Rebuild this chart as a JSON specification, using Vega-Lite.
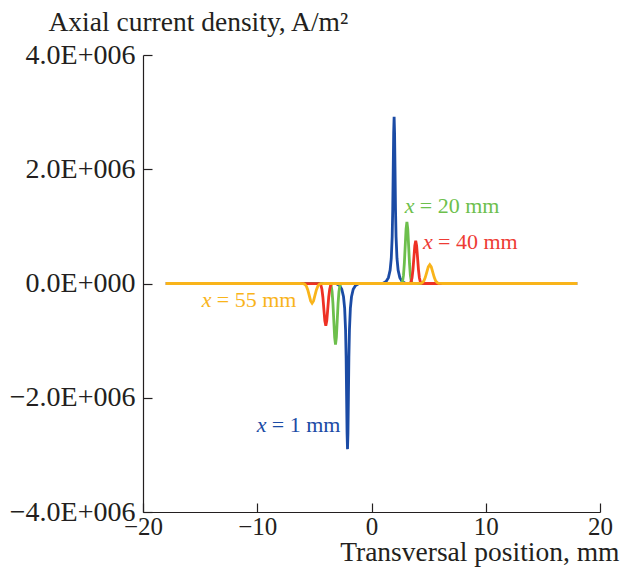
{
  "$schema": "https://vega.github.io/schema/vega-lite/v6.json",
  "width": 457,
  "height": 457,
  "autosize": {"type": "none"},
  "padding": {"left": 143, "top": 55, "right": 21, "bottom": 56},
  "background": "white",
  "view": {"stroke": null},
  "config": {
    "font": "Liberation Serif",
    "axis": {
      "grid": false,
      "domainColor": "#231f20",
      "tickColor": "#231f20",
      "domainWidth": 1.2,
      "tickWidth": 1.2,
      "tickSize": -9,
      "labelFont": "Liberation Serif",
      "labelFontSize": 27.5,
      "labelColor": "#231f20",
      "titleFont": "Liberation Serif",
      "titleFontSize": 27.5,
      "titleFontWeight": "normal",
      "titleColor": "#231f20",
      "labelOverlap": false,
      "labelFlush": false
    }
  },
  "datasets": {
    "blue": [
      {"x": -18, "y": 0}, {"x": -3.1, "y": 0}, {"x": -2.8, "y": -34800}, {"x": -2.6, "y": -101500}, {"x": -2.45, "y": -232000}, {"x": -2.35, "y": -435000}, {"x": -2.27, "y": -812000}, {"x": -2.22, "y": -1305000}, {"x": -2.18, "y": -1972000}, {"x": -2.14, "y": -2610000}, {"x": -2.1, "y": -2900000}, {"x": -2.06, "y": -2610000}, {"x": -2.02, "y": -1972000}, {"x": -1.98, "y": -1305000}, {"x": -1.93, "y": -812000}, {"x": -1.85, "y": -435000}, {"x": -1.75, "y": -232000}, {"x": -1.6, "y": -101500}, {"x": -1.4, "y": -34800}, {"x": -1.1, "y": 0},
      {"x": 0.98, "y": 0}, {"x": 1.28, "y": 35040}, {"x": 1.48, "y": 102200}, {"x": 1.63, "y": 233600}, {"x": 1.73, "y": 438000}, {"x": 1.81, "y": 817600}, {"x": 1.86, "y": 1314000}, {"x": 1.9, "y": 1985600}, {"x": 1.94, "y": 2628000}, {"x": 1.98, "y": 2920000}, {"x": 2.02, "y": 2628000}, {"x": 2.06, "y": 1985600}, {"x": 2.1, "y": 1314000}, {"x": 2.15, "y": 817600}, {"x": 2.23, "y": 438000}, {"x": 2.33, "y": 233600}, {"x": 2.48, "y": 102200}, {"x": 2.68, "y": 35040}, {"x": 2.98, "y": 0}, {"x": 18, "y": 0}
    ],
    "green": [
      {"x": -18, "y": 0}, {"x": -3.675, "y": -2400}, {"x": -3.6, "y": -11900}, {"x": -3.525, "y": -47000}, {"x": -3.45, "y": -144800}, {"x": -3.375, "y": -347400}, {"x": -3.3, "y": -649000}, {"x": -3.225, "y": -944300}, {"x": -3.15, "y": -1070000}, {"x": -3.075, "y": -944300}, {"x": -3.0, "y": -649000}, {"x": -2.925, "y": -347400}, {"x": -2.85, "y": -144800}, {"x": -2.775, "y": -47000}, {"x": -2.7, "y": -11900}, {"x": -2.625, "y": -2400}, {"x": -2.4, "y": 0},
      {"x": 2.35, "y": 0}, {"x": 2.575, "y": 2400}, {"x": 2.65, "y": 12000}, {"x": 2.725, "y": 47400}, {"x": 2.8, "y": 146100}, {"x": 2.875, "y": 350700}, {"x": 2.95, "y": 655000}, {"x": 3.025, "y": 953100}, {"x": 3.1, "y": 1080000}, {"x": 3.175, "y": 953100}, {"x": 3.25, "y": 655000}, {"x": 3.325, "y": 350700}, {"x": 3.4, "y": 146100}, {"x": 3.475, "y": 47400}, {"x": 3.55, "y": 12000}, {"x": 3.625, "y": 2400}, {"x": 3.85, "y": 0}, {"x": 18, "y": 0}
    ],
    "red": [
      {"x": -18, "y": 0}, {"x": -4.595, "y": -1600}, {"x": -4.51, "y": -8200}, {"x": -4.425, "y": -32500}, {"x": -4.34, "y": -100100}, {"x": -4.255, "y": -240300}, {"x": -4.17, "y": -448800}, {"x": -4.085, "y": -653000}, {"x": -4.0, "y": -740000}, {"x": -3.915, "y": -653000}, {"x": -3.83, "y": -448800}, {"x": -3.745, "y": -240300}, {"x": -3.66, "y": -100100}, {"x": -3.575, "y": -32500}, {"x": -3.49, "y": -8200}, {"x": -3.405, "y": -1600}, {"x": -3.2, "y": 0},
      {"x": 3.1, "y": 0}, {"x": 3.31, "y": 1700}, {"x": 3.39, "y": 8300}, {"x": 3.47, "y": 32900}, {"x": 3.55, "y": 101500}, {"x": 3.63, "y": 243500}, {"x": 3.71, "y": 454900}, {"x": 3.79, "y": 661900}, {"x": 3.87, "y": 750000}, {"x": 3.95, "y": 661900}, {"x": 4.03, "y": 454900}, {"x": 4.11, "y": 243500}, {"x": 4.19, "y": 101500}, {"x": 4.27, "y": 32900}, {"x": 4.35, "y": 8300}, {"x": 4.43, "y": 1700}, {"x": 4.65, "y": 0}, {"x": 18, "y": 0}
    ],
    "yellow": [
      {"x": -18, "y": 0}, {"x": -6.3, "y": 0}, {"x": -6.075, "y": -800}, {"x": -5.95, "y": -3800}, {"x": -5.825, "y": -15100}, {"x": -5.7, "y": -46700}, {"x": -5.575, "y": -112000}, {"x": -5.45, "y": -209200}, {"x": -5.325, "y": -304500}, {"x": -5.2, "y": -345000}, {"x": -5.075, "y": -304500}, {"x": -4.95, "y": -209200}, {"x": -4.825, "y": -112000}, {"x": -4.7, "y": -46700}, {"x": -4.575, "y": -15100}, {"x": -4.45, "y": -3800}, {"x": -4.325, "y": -800}, {"x": -4.1, "y": 0},
      {"x": 3.95, "y": 0}, {"x": 4.19, "y": 700}, {"x": 4.32, "y": 3700}, {"x": 4.45, "y": 14500}, {"x": 4.58, "y": 44600}, {"x": 4.71, "y": 107200}, {"x": 4.84, "y": 200100}, {"x": 4.97, "y": 291200}, {"x": 5.1, "y": 330000}, {"x": 5.23, "y": 291200}, {"x": 5.36, "y": 200100}, {"x": 5.49, "y": 107200}, {"x": 5.62, "y": 44600}, {"x": 5.75, "y": 14500}, {"x": 5.88, "y": 3700}, {"x": 6.01, "y": 700}, {"x": 6.25, "y": 0}, {"x": 18, "y": 0}
    ],
    "labels": [
      {"x": 2.91, "y": 1229000, "rest": "= 20 mm", "c": "#6dbf4c"},
      {"x": 4.51, "y": 611000, "rest": "= 40 mm", "c": "#ee3b34"},
      {"x": -14.85, "y": -417000, "rest": "= 55 mm", "c": "#f9b41a"},
      {"x": -10.04, "y": -2606000, "rest": "= 1 mm", "c": "#1b4ba5"}
    ]
  },
  "encoding": {
    "x": {
      "field": "x", "type": "quantitative",
      "scale": {"domain": [-20, 20], "nice": false, "zero": false},
      "axis": {
        "values": [-20, -10, 0, 10, 20],
        "title": "Transversal position, mm",
        "labelFontSize": 25,
        "labelPadding": 11,
        "labelBaseline": "top",
        "titleAnchor": "end",
        "titleAlign": "right",
        "titleBaseline": "alphabetic",
        "titleX": 476,
        "titleY": 48
      }
    },
    "y": {
      "field": "y", "type": "quantitative",
      "scale": {"domain": [-4000000, 4000000], "nice": false, "zero": false},
      "axis": {
        "values": [-4000000, -2000000, 0, 2000000, 4000000],
        "labelExpr": "datum.value == 0 ? '0.0E+000' : (datum.value < 0 ? '\u2212' : '') + format(abs(datum.value) / 1000000, '.1f') + 'E+006'",
        "labelFontSize": 28,
        "labelPadding": 17,
        "labelBaseline": "middle",
        "title": "Axial current density, A/m\u00b2",
        "titleAngle": 0,
        "titleAlign": "left",
        "titleBaseline": "alphabetic",
        "titleX": -95,
        "titleY": -25
      }
    }
  },
  "layer": [
    {"data": {"name": "blue"}, "mark": {"type": "line", "color": "#1b4ba5", "strokeWidth": 2.8, "clip": true}},
    {"data": {"name": "green"}, "mark": {"type": "line", "color": "#6dbf4c", "strokeWidth": 2.8, "clip": true}},
    {"data": {"name": "red"}, "mark": {"type": "line", "color": "#ee3124", "strokeWidth": 2.8, "clip": true}},
    {"data": {"name": "yellow"}, "mark": {"type": "line", "color": "#f9b41a", "strokeWidth": 2.8, "clip": true}},
    {
      "data": {"name": "labels"},
      "mark": {"type": "text", "font": "Liberation Serif", "fontSize": 22, "fontStyle": "italic", "align": "left", "baseline": "alphabetic"},
      "encoding": {"text": {"value": "x"}, "color": {"field": "c", "type": "nominal", "scale": null}}
    },
    {
      "data": {"name": "labels"},
      "mark": {"type": "text", "font": "Liberation Serif", "fontSize": 22, "align": "left", "baseline": "alphabetic", "dx": 15},
      "encoding": {"text": {"field": "rest"}, "color": {"field": "c", "type": "nominal", "scale": null}}
    }
  ]
}
